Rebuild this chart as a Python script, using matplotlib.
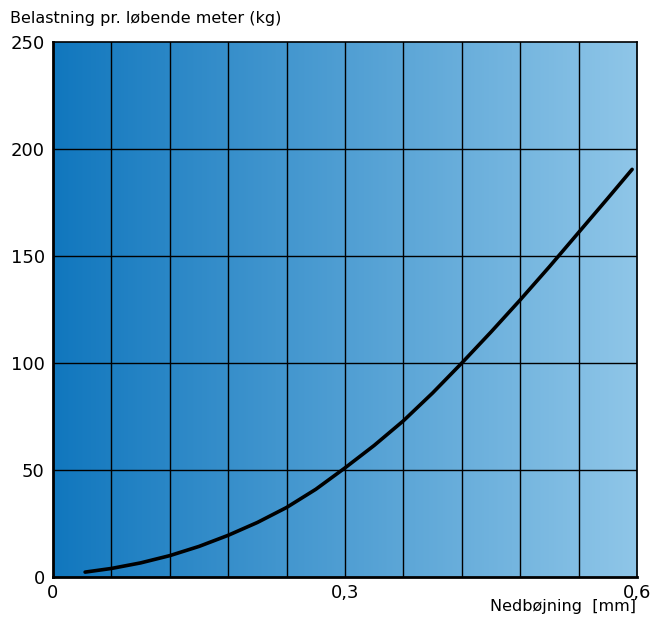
# Nedbøjning vs. belastning pr. løbende meter

import matplotlib.pyplot as plt
import numpy as np
from matplotlib.colors import LinearSegmentedColormap

# curve (mm, kg)
deflection = [0.033, 0.06, 0.09, 0.12, 0.15, 0.18, 0.21, 0.24, 0.27, 0.30,
              0.33, 0.36, 0.39, 0.42, 0.45, 0.48, 0.51, 0.54, 0.57, 0.595]
load = [2.3, 4.0, 6.6, 10.0, 14.3, 19.5, 25.5, 32.5, 41.0, 51.0,
        61.5, 73.0, 86.0, 100.0, 114.5, 129.5, 145.0, 161.0, 177.0, 190.5]

x_ticks = [0, 0.3, 0.6]
x_tick_labels = ["0", "0,3", "0,6"]
y_ticks = [0, 50, 100, 150, 200, 250]
y_tick_labels = ["0", "50", "100", "150", "200", "250"]

plt.rcParams['font.family'] = ['DejaVu Sans']

fig = plt.figure(figsize=(6.51, 6.18), dpi=100)
ax = fig.add_axes([0.0814, 0.0663, 0.8971, 0.8657])

# horizontal blue gradient background
cmap = LinearSegmentedColormap.from_list("bg", ["#1177be", "#8fc6e8"])
grad = np.linspace(0, 1, 256).reshape(1, -1)
ax.imshow(grad, cmap=cmap, aspect='auto', extent=[0, 0.6, 0, 250], zorder=0)

# grid
for gx in np.arange(0.06, 0.6, 0.06):
    ax.axvline(gx, color='black', lw=1, zorder=1)
for gy in [50, 100, 150, 200]:
    ax.axhline(gy, color='black', lw=1, zorder=1)

ax.plot(deflection, load, color='black', lw=2.6, zorder=2,
        solid_joinstyle='round', solid_capstyle='round')

ax.set_xlim(0, 0.6)
ax.set_ylim(0, 250)
ax.set_xticks(x_ticks)
ax.set_xticklabels(x_tick_labels, fontsize=13)
ax.set_yticks(y_ticks)
ax.set_yticklabels(y_tick_labels, fontsize=13)
ax.tick_params(length=0, pad=5)
ax.tick_params(axis='y', pad=6)
for s in ax.spines.values():
    s.set_linewidth(1.2)
ax.spines['left'].set_linewidth(2)
ax.spines['bottom'].set_linewidth(2)

fig.text(10 / 651, 1 - 19 / 618, "Belastning pr. løbende meter (kg)", fontsize=11.5,
         ha='left', va='center')
fig.text(636 / 651, 1 - 607 / 618, "Nedbøjning  [mm]", fontsize=11.5,
         ha='right', va='center')

plt.savefig("out.png", dpi=100)
